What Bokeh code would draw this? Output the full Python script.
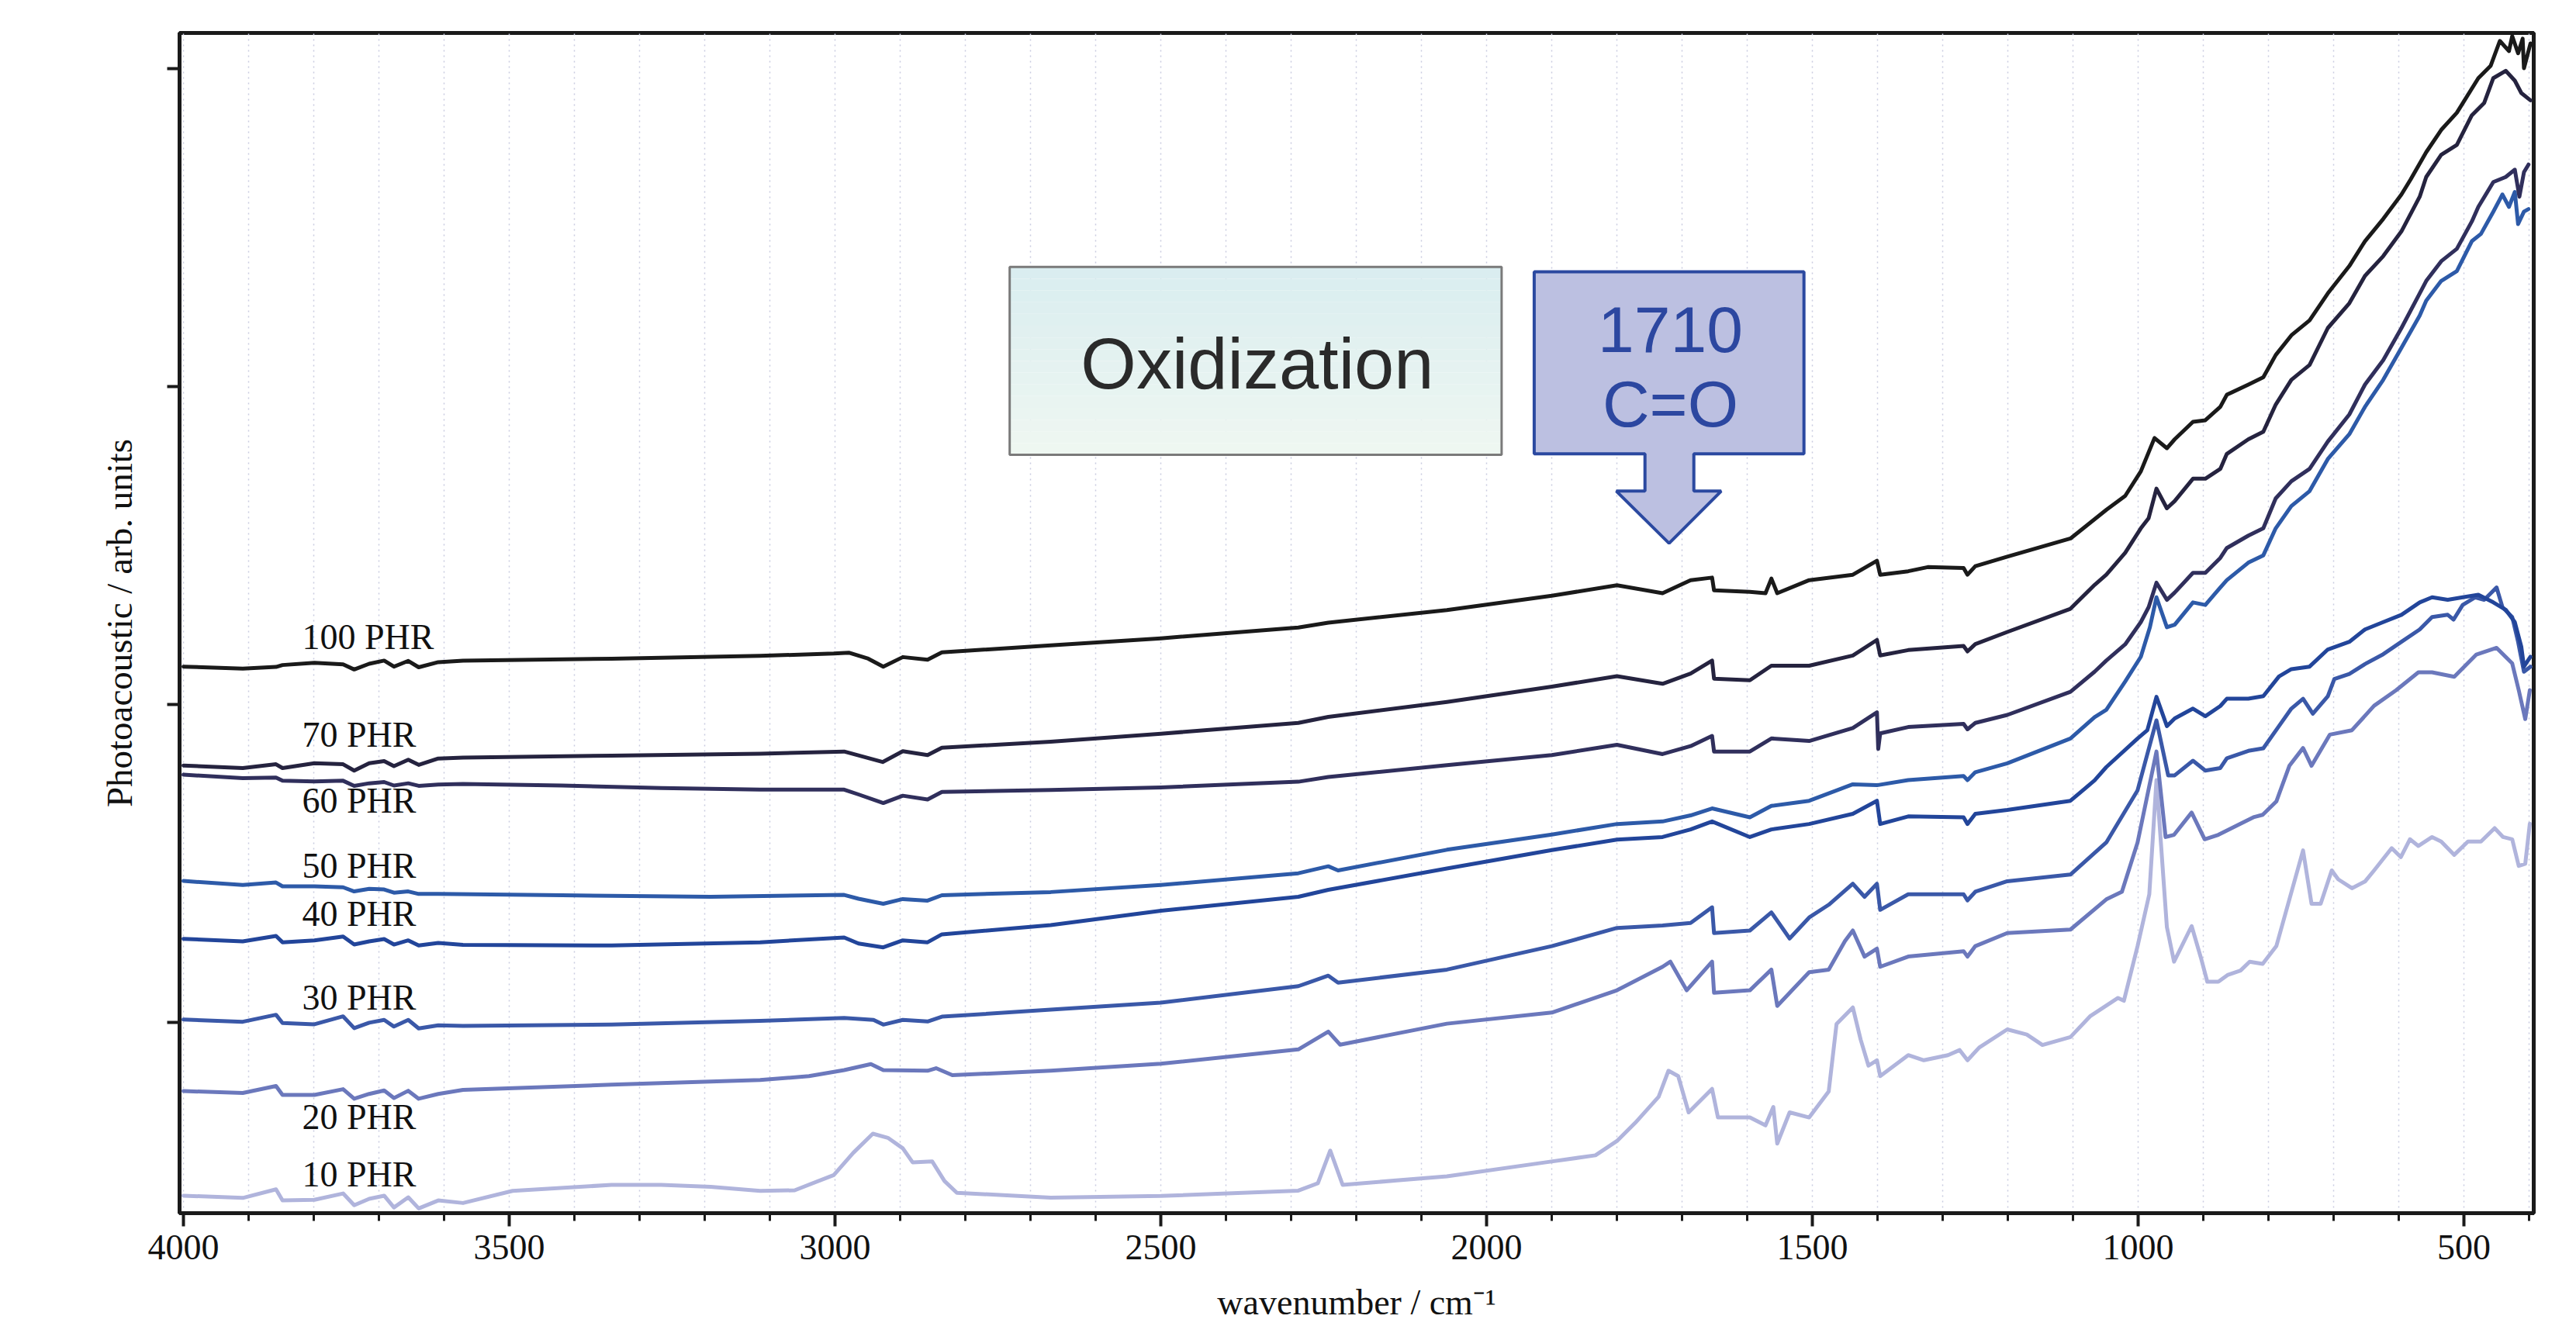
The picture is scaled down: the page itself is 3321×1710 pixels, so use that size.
from bokeh.plotting import figure
from bokeh.models import (Range1d, SingleIntervalTicker, FixedTicker, Label,
                          BoxAnnotation, PolyAnnotation)
from bokeh.embed import file_html
from bokeh.resources import INLINE

# ---------------- data: (wavenumber cm-1, photoacoustic signal, arb. units) ----------------
spec_100 = [(4000,2.119),(3909,2.113),(3858,2.118),(3848,2.124),(3799,2.131),(3755,2.126),(3738,2.110),
            (3715,2.128),(3692,2.138),(3677,2.119),(3655,2.137),(3639,2.117),(3609,2.133),(3571,2.138),
            (3343,2.144),(3115,2.153),(3002,2.160),
            (2979,2.163),(2949,2.144),(2926,2.119),(2896,2.149),(2858,2.141),(2836,2.164),(2669,2.186),
            (2500,2.208),(2289,2.242),(2243,2.257),(2061,2.297),(1900,2.342),(1800,2.375),(1730,2.350),
            (1687,2.391),(1654,2.399),(1651,2.359),(1596,2.354),(1572,2.350),(1563,2.396),(1554,2.350),
            (1505,2.391),(1438,2.408),(1401,2.452),(1396,2.408),(1353,2.419),(1323,2.432),(1268,2.429),
            (1262,2.408),(1250,2.435),(1201,2.465),(1104,2.522),(1049,2.612),(1020,2.656),(996,2.733),
            (975,2.838),(956,2.806),(944,2.834),(916,2.889),(897,2.894),(874,2.936),(864,2.974),(831,3.006),
            (808,3.029),(789,3.099),(765,3.161),(737,3.208),(709,3.293),(676,3.379),(652,3.457),(624,3.527),
            (596,3.604),(582,3.651),(558,3.737),(535,3.807),(511,3.861),(478,3.970),(459,4.009),(445,4.087),
            (431,4.055),(426,4.102),(417,4.048),(410,4.094),(408,4.001),(398,4.079)]

spec_70 = [(4000,1.808),(3909,1.800),(3858,1.812),(3848,1.800),(3799,1.815),(3755,1.812),(3738,1.792),
           (3715,1.815),(3692,1.822),(3677,1.806),(3655,1.826),(3639,1.810),(3609,1.830),(3571,1.833),
           (3343,1.839),(3115,1.845),(2986,1.852),(2927,1.819),
           (2896,1.853),(2858,1.841),(2836,1.864),(2669,1.883),(2500,1.908),(2289,1.942),(2243,1.961),
           (2061,2.008),(1900,2.056),(1800,2.089),(1730,2.065),(1687,2.097),(1654,2.138),(1651,2.081),
           (1596,2.076),(1563,2.122),(1505,2.122),(1438,2.154),(1401,2.203),(1396,2.154),(1353,2.171),
           (1268,2.184),(1262,2.167),(1250,2.190),(1201,2.228),(1104,2.301),(1067,2.376),(1049,2.408),
           (1020,2.477),(996,2.554),(984,2.586),(972,2.679),(956,2.617),(944,2.640),(916,2.710),(897,2.710),
           (874,2.741),(864,2.788),(831,2.834),(808,2.858),(789,2.943),(765,3.021),(737,3.068),(709,3.184),
           (676,3.262),(652,3.348),(624,3.410),(596,3.488),(568,3.597),(558,3.659),(535,3.729),(511,3.760),
           (488,3.853),(469,3.892),(455,3.970),(436,3.993),(422,3.962),(412,3.923),(398,3.900)]

spec_60 = [(4000,1.779),(3909,1.768),(3858,1.770),(3848,1.760),(3799,1.758),(3755,1.760),(3738,1.744),
           (3715,1.752),(3692,1.756),(3677,1.745),(3655,1.752),(3639,1.744),(3609,1.748),(3571,1.750),
           (3419,1.745),(3267,1.737),(3115,1.732),(2986,1.732),
           (2964,1.717),(2926,1.690),(2896,1.713),(2858,1.701),(2836,1.725),(2669,1.731),(2500,1.739),
           (2289,1.757),(2243,1.772),(2061,1.809),(1900,1.841),(1800,1.873),(1730,1.844),(1687,1.869),
           (1654,1.901),(1651,1.852),(1596,1.852),(1563,1.893),(1505,1.885),(1438,1.926),(1401,1.975),
           (1399,1.860),(1396,1.909),(1353,1.929),(1268,1.939),(1262,1.922),(1250,1.942),(1201,1.967),
           (1104,2.040),(1067,2.103),(1049,2.138),(1020,2.189),(996,2.259),(984,2.306),(972,2.383),
           (956,2.329),(944,2.352),(916,2.414),(897,2.414),(874,2.461),(864,2.492),(831,2.531),(808,2.554),
           (789,2.648),(765,2.702),(737,2.741),(709,2.827),(676,2.912),(652,3.006),(624,3.083),(596,3.184),
           (568,3.293),(558,3.332),(535,3.394),(511,3.433),(488,3.519),(478,3.565),(455,3.643),(436,3.659),
           (422,3.682),(415,3.597),(408,3.674),(401,3.698)]

spec_50 = [(4000,1.445),(3909,1.432),(3858,1.440),(3848,1.428),(3799,1.428),(3755,1.425),(3738,1.412),
           (3715,1.420),(3692,1.418),(3677,1.408),(3655,1.412),(3639,1.404),(3609,1.404),(3419,1.400),
           (3191,1.395),(2986,1.401),
           (2964,1.389),(2926,1.373),(2896,1.388),(2858,1.383),(2836,1.400),(2669,1.410),(2500,1.432),
           (2289,1.469),(2243,1.491),(2228,1.478),(2061,1.543),(1900,1.591),(1800,1.624),(1730,1.632),
           (1687,1.651),(1654,1.673),(1596,1.645),(1563,1.681),(1505,1.697),(1438,1.749),(1401,1.746),
           (1353,1.762),(1268,1.775),(1262,1.762),(1250,1.787),(1201,1.815),(1104,1.893),(1067,1.960),
           (1049,1.983),(1020,2.072),(996,2.150),(982,2.243),(972,2.337),(956,2.243),(944,2.251),(916,2.321),
           (897,2.313),(874,2.368),(864,2.391),(831,2.446),(808,2.469),(789,2.554),(765,2.624),(737,2.671),
           (709,2.772),(676,2.850),(652,2.936),(624,3.021),(596,3.122),(568,3.223),(558,3.270),(535,3.332),
           (511,3.363),(488,3.457),(474,3.480),(455,3.550),(441,3.604),(431,3.565),(422,3.612),(417,3.511),
           (408,3.550),(401,3.558)]

spec_40 = [(4000,1.263),(3909,1.255),(3858,1.272),(3848,1.252),(3799,1.258),(3755,1.270),(3738,1.245),
           (3715,1.255),(3692,1.262),(3677,1.245),(3655,1.258),(3639,1.242),(3609,1.250),(3571,1.244),
           (3343,1.242),(3115,1.252),(2986,1.267),(2964,1.248),
           (2926,1.236),(2896,1.258),(2858,1.252),(2836,1.277),(2669,1.306),(2500,1.351),(2289,1.395),
           (2243,1.417),(2061,1.484),(1900,1.542),(1800,1.575),(1730,1.583),(1687,1.607),(1654,1.632),
           (1596,1.583),(1563,1.607),(1505,1.624),(1438,1.656),(1401,1.697),(1396,1.624),(1353,1.648),
           (1268,1.645),(1262,1.624),(1250,1.656),(1201,1.668),(1104,1.697),(1067,1.761),(1049,1.803),
           (1001,1.893),(986,1.919),(972,2.024),(956,1.932),(944,1.956),(916,1.987),(897,1.963),(874,1.995),
           (864,2.018),(831,2.018),(808,2.026),(784,2.088),(765,2.111),(737,2.119),(709,2.173),(676,2.197),
           (652,2.236),(624,2.259),(596,2.282),(568,2.321),(549,2.337),(525,2.329),(502,2.337),(478,2.345),
           (455,2.321),(436,2.298),(422,2.259),(412,2.181),(408,2.119),(398,2.150)]

spec_30 = [(4000,1.009),(3909,1.002),(3858,1.024),(3848,0.998),(3799,0.994),(3755,1.019),(3738,0.982),
           (3715,0.999),(3692,1.008),(3677,0.987),(3655,1.008),(3639,0.981),(3609,0.991),(3571,0.989),
           (3343,0.993),(3115,1.005),(2986,1.014),(2941,1.008),
           (2926,0.993),(2896,1.008),(2858,1.003),(2836,1.018),(2669,1.040),(2500,1.062),(2289,1.114),
           (2243,1.147),(2228,1.125),(2061,1.166),(1900,1.240),(1800,1.297),(1730,1.305),(1687,1.313),
           (1654,1.362),(1651,1.281),(1596,1.289),(1563,1.346),(1535,1.264),(1505,1.330),(1475,1.370),
           (1438,1.436),(1420,1.395),(1401,1.436),(1396,1.354),(1353,1.403),(1268,1.403),(1262,1.384),
           (1250,1.411),(1201,1.444),(1104,1.465),(1049,1.566),(1001,1.730),(972,1.950),(954,1.777),
           (944,1.777),(916,1.823),(897,1.792),(874,1.800),(864,1.831),(831,1.854),(808,1.862),(784,1.932),
           (765,1.987),(747,2.018),(732,1.971),(709,2.026),(699,2.080),(676,2.096),(652,2.127),(624,2.158),
           (596,2.197),(568,2.236),(549,2.275),(525,2.282),(516,2.267),(502,2.313),(483,2.337),(469,2.329),
           (450,2.368),(441,2.306),(426,2.275),(417,2.197),(408,2.103),(398,2.119)]

spec_20 = [(4000,0.784),(3909,0.778),(3858,0.800),(3848,0.772),(3799,0.772),(3755,0.790),(3738,0.760),
           (3715,0.775),(3692,0.786),(3677,0.762),(3655,0.785),(3639,0.760),(3609,0.775),(3571,0.788),
           (3343,0.804),(3115,0.819),(3040,0.831),(2986,0.850),
           (2945,0.869),(2926,0.850),(2858,0.848),(2845,0.856),(2820,0.834),(2669,0.848),(2500,0.870),
           (2289,0.915),(2243,0.971),(2225,0.930),(2061,0.996),(1900,1.031),(1800,1.101),(1730,1.175),
           (1718,1.191),(1693,1.101),(1654,1.191),(1651,1.093),(1596,1.101),(1563,1.166),(1554,1.052),
           (1505,1.158),(1475,1.166),(1450,1.256),(1438,1.289),(1420,1.207),(1401,1.232),(1396,1.175),
           (1353,1.207),(1268,1.224),(1262,1.207),(1250,1.240),(1201,1.281),(1104,1.292),(1049,1.387),
           (1025,1.411),(1001,1.566),(972,1.852),(958,1.583),(945,1.590),(918,1.660),(898,1.576),(877,1.590),
           (843,1.625),(822,1.646),(809,1.653),(788,1.695),(768,1.807),(747,1.863),(734,1.807),(706,1.905),
           (672,1.919),(638,1.996),(604,2.045),(570,2.101),(549,2.101),(515,2.087),(481,2.157),(450,2.178),
           (426,2.129),(416,2.045),(406,1.954),(399,2.045)]

spec_10 = [(4000,0.455),(3909,0.448),(3858,0.475),(3848,0.440),(3799,0.442),(3755,0.462),(3738,0.425),
           (3715,0.445),(3692,0.455),(3677,0.418),(3655,0.450),(3639,0.415),(3609,0.440),(3571,0.432),
           (3495,0.470),(3343,0.489),(3267,0.489),
           (3191,0.483),(3115,0.470),(3062,0.472),(3002,0.520),(2972,0.590),(2942,0.650),(2919,0.637),
           (2896,0.604),(2881,0.560),(2851,0.563),(2832,0.501),(2813,0.464),(2669,0.449),(2500,0.454),
           (2289,0.471),(2259,0.494),(2240,0.597),(2221,0.489),(2061,0.516),(1909,0.560),(1833,0.582),
           (1800,0.627),(1772,0.684),(1736,0.766),(1721,0.848),(1706,0.831),(1690,0.717),(1654,0.791),
           (1645,0.701),(1596,0.701),(1572,0.676),(1560,0.734),(1554,0.619),(1535,0.717),(1505,0.701),
           (1475,0.783),(1463,0.995),(1438,1.047),(1426,0.946),(1414,0.864),(1401,0.881),(1396,0.831),
           (1353,0.897),(1329,0.881),(1292,0.897),(1274,0.913),(1262,0.881),(1244,0.921),(1201,0.978),
           (1171,0.962),(1147,0.929),(1104,0.954),(1074,1.019),(1031,1.077),(1022,1.068),(1001,1.240),
           (983,1.403),(972,1.762),(956,1.300),(945,1.191),(918,1.303),(904,1.205),(894,1.128),(877,1.128),
           (863,1.149),(843,1.163),(829,1.191),(809,1.184),(788,1.240),(768,1.387),(747,1.541),(734,1.373),
           (720,1.373),(703,1.478),(693,1.450),(672,1.422),(652,1.443),(638,1.478),(611,1.548),(597,1.520),
           (583,1.576),(570,1.555),(549,1.583),(535,1.569),(515,1.527),(494,1.569),(474,1.569),(453,1.611),
           (440,1.583),(426,1.576),(416,1.492),(406,1.499),(399,1.625)]

series_names = ["10 PHR", "20 PHR", "30 PHR", "40 PHR", "50 PHR", "60 PHR", "70 PHR", "100 PHR"]
series_data = [spec_10, spec_20, spec_30, spec_40, spec_50, spec_60, spec_70, spec_100]
series_colors = ["#b0b4dc", "#6b78bc", "#3a58a8", "#22459a", "#2d5aa8", "#302f5c", "#25233f", "#1a1a1a"]

# label anchor (left edge wavenumber, baseline signal)
label_x = 3818
label_y = [0.522, 0.702, 1.078, 1.341, 1.492, 1.697, 1.905, 2.212]

x_ticks_major = 500
x_ticks_minor = 5
y_tick_positions = [1, 2, 3, 4]

# ---------------- figure ----------------
p = figure(width=3321, height=1710, output_backend="svg", toolbar_location=None,
           x_range=Range1d(4006, 393), y_range=Range1d(0.4, 4.112),
           min_border_left=231, min_border_right=55, min_border_top=42, min_border_bottom=146,
           background_fill_color="white", border_fill_color="white")

p.outline_line_color = "#1a1a1a"
p.outline_line_width = 5

# grid: faint dotted vertical lines every 100 cm-1
p.xgrid.ticker = SingleIntervalTicker(interval=100)
p.xgrid.grid_line_color = "#c9cbe0"
p.xgrid.grid_line_dash = "2 5"
p.xgrid.grid_line_width = 1.5
p.ygrid.visible = False

# x axis
xa = p.xaxis[0]
xa.ticker = SingleIntervalTicker(interval=x_ticks_major, num_minor_ticks=x_ticks_minor)
xa.axis_line_width = 5
xa.axis_line_color = "#1a1a1a"
xa.major_tick_in = 0
xa.major_tick_out = 17
xa.minor_tick_in = 0
xa.minor_tick_out = 10
xa.major_tick_line_width = 4
xa.minor_tick_line_width = 3
xa.major_tick_line_color = "#1a1a1a"
xa.minor_tick_line_color = "#1a1a1a"
xa.major_label_text_font = "Liberation Serif"
xa.major_label_text_font_size = "46px"
xa.major_label_text_color = "#111111"
xa.major_label_standoff = 11
xa.axis_label = "wavenumber / cm\u207b\u00b9"
xa.axis_label_text_font = "Liberation Serif"
xa.axis_label_text_font_size = "46px"
xa.axis_label_text_font_style = "normal"
xa.axis_label_text_color = "#111111"
xa.axis_label_standoff = 27

# y axis
ya = p.yaxis[0]
ya.ticker = FixedTicker(ticks=y_tick_positions, minor_ticks=[])
ya.axis_line_width = 5
ya.axis_line_color = "#1a1a1a"
ya.major_tick_in = 0
ya.major_tick_out = 16
ya.major_tick_line_width = 4
ya.major_tick_line_color = "#1a1a1a"
ya.minor_tick_line_color = None
ya.major_label_overrides = {t: "" for t in y_tick_positions}
ya.major_label_text_font_size = "20px"
ya.major_label_standoff = 0
ya.axis_label = "Photoacoustic / arb. units"
ya.axis_label_text_font = "Liberation Serif"
ya.axis_label_text_font_size = "47px"
ya.axis_label_text_font_style = "normal"
ya.axis_label_text_color = "#111111"
ya.axis_label_standoff = 36

# ---------------- annotations: Oxidization box (gradient fill) ----------------
ox_left, ox_right, ox_top, ox_bottom = 2732, 1977, 3.376, 2.785
top_rgb = (0xd9, 0xed, 0xf0)
bot_rgb = (0xef, 0xf7, 0xf1)
nb = 16
for i in range(nb):
    t = (i + 0.5) / nb
    c = tuple(int(round(top_rgb[k] + (bot_rgb[k] - top_rgb[k]) * t)) for k in range(3))
    yt = ox_top - (ox_top - ox_bottom) * i / nb
    yb = ox_top - (ox_top - ox_bottom) * (i + 1) / nb
    p.add_layout(BoxAnnotation(left=ox_left, right=ox_right, top=yt, bottom=yb,
                               fill_color="#%02x%02x%02x" % c, fill_alpha=1.0,
                               line_color=None, line_alpha=0))
p.add_layout(BoxAnnotation(left=ox_left, right=ox_right, top=ox_top, bottom=ox_bottom,
                           fill_alpha=0, line_color="#7a7a7a", line_alpha=1.0, line_width=3))
p.add_layout(Label(x=2352, y=3.071, text="Oxidization", text_font="Liberation Sans",
                   text_font_size="92px", text_color="#2a2a2a",
                   text_align="center", text_baseline="middle"))

# ---------------- annotations: 1710 C=O callout arrow ----------------
call_xs = [1927, 1513, 1513, 1682, 1682, 1640, 1720, 1801, 1757, 1757, 1927]
call_ys = [3.361, 3.361, 2.788, 2.788, 2.671, 2.671, 2.507, 2.671, 2.671, 2.788, 2.788]
p.add_layout(PolyAnnotation(xs=call_xs, ys=call_ys, fill_color="#bcc0e1", fill_alpha=1.0,
                            line_color="#2b49a0", line_alpha=1.0, line_width=4))
p.add_layout(Label(x=1718, y=3.180, text="1710", text_font="Liberation Sans",
                   text_font_size="84px", text_color="#2c47a0",
                   text_align="center", text_baseline="middle"))
p.add_layout(Label(x=1718, y=2.946, text="C=O", text_font="Liberation Sans",
                   text_font_size="84px", text_color="#2c47a0",
                   text_align="center", text_baseline="middle"))

# ---------------- spectra ----------------
for name, data, col in zip(series_names, series_data, series_colors):
    xs = [d[0] for d in data]
    ys = [d[1] for d in data]
    p.line(xs, ys, line_color=col, line_width=5, line_join="round", line_cap="round")

for name, ly in zip(series_names, label_y):
    p.add_layout(Label(x=label_x, y=ly, text=name, text_font="Liberation Serif",
                       text_font_size="46px", text_color="#111111",
                       text_align="left", text_baseline="alphabetic"))

open("out.html", "w").write(file_html(p, INLINE))
